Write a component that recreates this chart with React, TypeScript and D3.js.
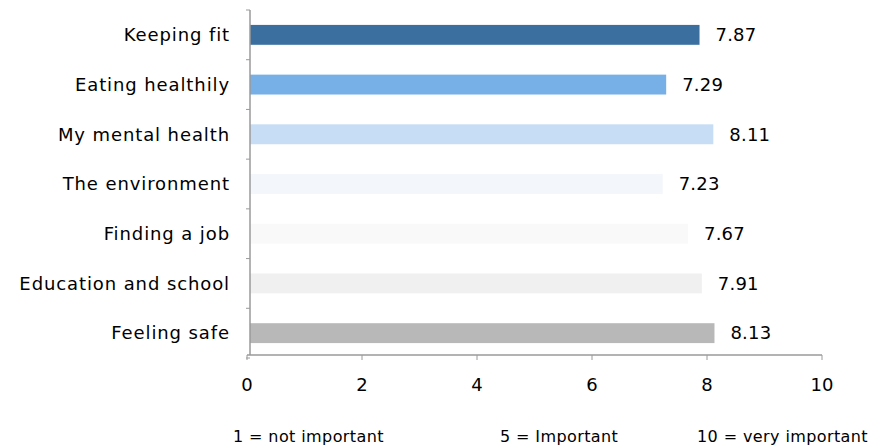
import React from "react";
import * as d3 from "d3";

const categories = [
  "Keeping fit",
  "Eating healthily",
  "My mental health",
  "The environment",
  "Finding a job",
  "Education and school",
  "Feeling safe",
];
const values = [7.87, 7.29, 8.11, 7.23, 7.67, 7.91, 8.13];
const barColors = ["#3a6fa0", "#76b0e6", "#c6ddf5", "#f3f6fb", "#f9f9f9", "#f0f0f0", "#b8b8b8"];
const xTicks = [0, 2, 4, 6, 8, 10];
const notes = ["1 = not important", "5 = Important", "10 = very important"];
const notePos = [233, 500, 697];

const W = 870;
const H = 448;
const FONT = "'DejaVu Sans', sans-serif";

export default function App() {
  const x = d3.scaleLinear().domain([0, 10]).range([247, 822]);
  const y = d3
    .scaleBand<string>()
    .domain(categories)
    .range([10, 358])
    .paddingInner(0.6)
    .paddingOuter(0.3);
  const axisY = 355;
  const boundaries = d3.range(categories.length + 1).map((i) => 10 + i * y.step());

  return (
    <svg
      width={W}
      height={H}
      style={{ position: "absolute", left: 0, top: 0, background: "#fff" }}
      fontFamily={FONT}
    >
      <rect x={0} y={0} width={W} height={H} fill="#fff" />
      {categories.map((c, i) => (
        <g key={c}>
          <rect
            x={x(0) + 3}
            y={y(c)!}
            width={x(values[i]) - x(0) - 3}
            height={y.bandwidth()}
            fill={barColors[i]}
          />
          <text
            x={230}
            y={y(c)! + y.bandwidth() / 2}
            dy="0.35em"
            textAnchor="end"
            fontSize={18}
            letterSpacing={0.9}
            fill="#000"
          >
            {c}
          </text>
          <text
            x={x(values[i]) + 16}
            y={y(c)! + y.bandwidth() / 2}
            dy="0.35em"
            fontSize={18}
            letterSpacing={0.2}
            fill="#000"
          >
            {values[i].toFixed(2)}
          </text>
        </g>
      ))}
      {/* y axis */}
      <line x1={250} x2={250} y1={10} y2={axisY} stroke="#9a9a9a" strokeWidth={1.5} />
      {boundaries.map((b, i) => (
        <line key={i} x1={246} x2={250} y1={b} y2={b} stroke="#9a9a9a" strokeWidth={1} />
      ))}
      {/* x axis */}
      <line x1={x(0)} x2={x(10)} y1={axisY} y2={axisY} stroke="#9a9a9a" strokeWidth={1.5} />
      {xTicks.map((t) => (
        <g key={t}>
          <line x1={x(t)} x2={x(t)} y1={axisY} y2={axisY + 5} stroke="#9a9a9a" strokeWidth={1} />
          <text x={x(t)} y={391} textAnchor="middle" fontSize={18} fill="#000">
            {t}
          </text>
        </g>
      ))}
      {notes.map((n, i) => (
        <text key={n} x={notePos[i]} y={442} fontSize={16} letterSpacing={0.4} fill="#000">
          {n}
        </text>
      ))}
    </svg>
  );
}
